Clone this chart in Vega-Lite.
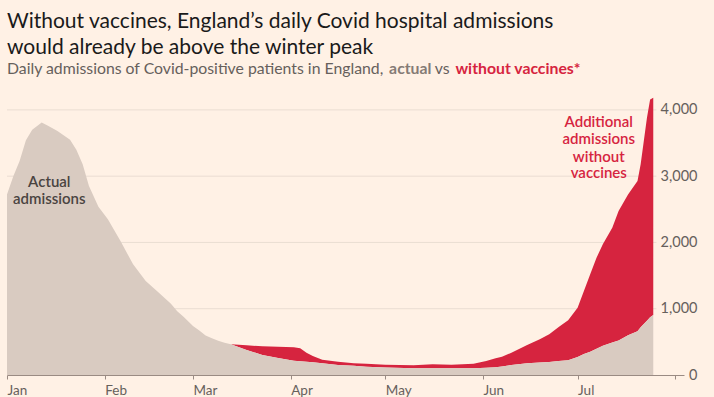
{
  "$schema": "https://vega.github.io/schema/vega-lite/v6.json",
  "width": 677,
  "height": 285,
  "autosize": {"type": "none"},
  "padding": {"left": 7, "top": 90, "right": 30, "bottom": 22},
  "background": "#FFF1E5",
  "config": {"view": {"stroke": null}, "font": "Lato"},
  "title": {
    "text": ["Without vaccines, England’s daily Covid hospital admissions", "would already be above the winter peak"],
    "anchor": "start",
    "frame": "group",
    "font": "Lato",
    "fontSize": 21,
    "fontWeight": "normal",
    "color": "#1a1a1a",
    "lineHeight": 26,
    "offset": 3
  },
  "datasets": {
    "series": [
      {"date": "2021-01-01", "actual": 2725, "without": null},
      {"date": "2021-01-03", "actual": 3000, "without": null},
      {"date": "2021-01-05", "actual": 3230, "without": null},
      {"date": "2021-01-07", "actual": 3540, "without": null},
      {"date": "2021-01-09", "actual": 3700, "without": null},
      {"date": "2021-01-12", "actual": 3810, "without": null},
      {"date": "2021-01-14", "actual": 3760, "without": null},
      {"date": "2021-01-17", "actual": 3680, "without": null},
      {"date": "2021-01-21", "actual": 3550, "without": null},
      {"date": "2021-01-23", "actual": 3400, "without": null},
      {"date": "2021-01-25", "actual": 3180, "without": null},
      {"date": "2021-01-27", "actual": 2850, "without": null},
      {"date": "2021-01-30", "actual": 2540, "without": null},
      {"date": "2021-02-02", "actual": 2350, "without": null},
      {"date": "2021-02-06", "actual": 2020, "without": null},
      {"date": "2021-02-10", "actual": 1670, "without": null},
      {"date": "2021-02-14", "actual": 1420, "without": null},
      {"date": "2021-02-18", "actual": 1250, "without": null},
      {"date": "2021-02-22", "actual": 1075, "without": null},
      {"date": "2021-02-24", "actual": 960, "without": null},
      {"date": "2021-02-26", "actual": 880, "without": null},
      {"date": "2021-03-01", "actual": 740, "without": null},
      {"date": "2021-03-03", "actual": 670, "without": null},
      {"date": "2021-03-05", "actual": 595, "without": null},
      {"date": "2021-03-07", "actual": 555, "without": null},
      {"date": "2021-03-09", "actual": 518, "without": null},
      {"date": "2021-03-11", "actual": 488, "without": null},
      {"date": "2021-03-13", "actual": 463, "without": 463},
      {"date": "2021-03-18", "actual": 377, "without": 448},
      {"date": "2021-03-23", "actual": 302, "without": 433},
      {"date": "2021-03-28", "actual": 255, "without": 427},
      {"date": "2021-04-02", "actual": 215, "without": 420},
      {"date": "2021-04-04", "actual": 208, "without": 403},
      {"date": "2021-04-06", "actual": 200, "without": 336},
      {"date": "2021-04-08", "actual": 192, "without": 287},
      {"date": "2021-04-11", "actual": 178, "without": 231},
      {"date": "2021-04-16", "actual": 152, "without": 201},
      {"date": "2021-04-21", "actual": 138, "without": 176},
      {"date": "2021-04-25", "actual": 125, "without": 171},
      {"date": "2021-05-01", "actual": 112, "without": 155},
      {"date": "2021-05-10", "actual": 101, "without": 146},
      {"date": "2021-05-16", "actual": 101, "without": 161},
      {"date": "2021-05-22", "actual": 101, "without": 155},
      {"date": "2021-05-29", "actual": 101, "without": 171},
      {"date": "2021-06-02", "actual": 108, "without": 211},
      {"date": "2021-06-05", "actual": 118, "without": 252},
      {"date": "2021-06-07", "actual": 130, "without": 276},
      {"date": "2021-06-10", "actual": 150, "without": 336},
      {"date": "2021-06-15", "actual": 178, "without": 452},
      {"date": "2021-06-19", "actual": 190, "without": 538},
      {"date": "2021-06-22", "actual": 198, "without": 614},
      {"date": "2021-06-25", "actual": 210, "without": 724},
      {"date": "2021-06-28", "actual": 222, "without": 825},
      {"date": "2021-07-01", "actual": 270, "without": 1015},
      {"date": "2021-07-03", "actual": 315, "without": 1267},
      {"date": "2021-07-05", "actual": 350, "without": 1519},
      {"date": "2021-07-07", "actual": 395, "without": 1769},
      {"date": "2021-07-09", "actual": 440, "without": 1971},
      {"date": "2021-07-12", "actual": 490, "without": 2222},
      {"date": "2021-07-14", "actual": 520, "without": 2474},
      {"date": "2021-07-17", "actual": 600, "without": 2725},
      {"date": "2021-07-20", "actual": 660, "without": 2926},
      {"date": "2021-07-21", "actual": 720, "without": 3178},
      {"date": "2021-07-22", "actual": 770, "without": 3529},
      {"date": "2021-07-23", "actual": 820, "without": 3881},
      {"date": "2021-07-24", "actual": 870, "without": 4158},
      {"date": "2021-07-25", "actual": 905, "without": 4183}
    ],
    "grid": [
      {"date": "2021-01-01", "end": "2021-07-26", "value": 1000},
      {"date": "2021-01-01", "end": "2021-07-26", "value": 2000},
      {"date": "2021-01-01", "end": "2021-07-26", "value": 3000},
      {"date": "2021-01-01", "end": "2021-07-26", "value": 4000}
    ]
  },
  "layer": [
    {
      "data": {"name": "grid"},
      "mark": {"type": "rule", "color": "#EADDD2", "strokeWidth": 1},
      "encoding": {
        "x": {"field": "date", "type": "temporal", "title": null, "scale": {"type": "utc", "domain": [{"year": 2021, "month": 1, "date": 1, "utc": true}, {"year": 2021, "month": 8, "date": 3, "hours": 18, "utc": true}]}},
        "x2": {"field": "end"},
        "y": {"field": "value", "type": "quantitative", "title": null, "scale": {"domain": [0, 4300], "nice": false}}
      }
    },
    {
      "data": {"name": "series"},
      "transform": [{"filter": "isValid(datum.without)"}],
      "mark": {"type": "area", "color": "#D6243F"},
      "encoding": {
        "x": {"field": "date", "type": "temporal", "title": null, "scale": {"type": "utc", "domain": [{"year": 2021, "month": 1, "date": 1, "utc": true}, {"year": 2021, "month": 8, "date": 3, "hours": 18, "utc": true}]}},
        "y": {"field": "without", "type": "quantitative", "title": null, "scale": {"domain": [0, 4300], "nice": false}},
        "y2": {"field": "actual"}
      }
    },
    {
      "data": {"name": "series"},
      "mark": {"type": "area", "color": "#D9CBC1"},
      "encoding": {
        "x": {
          "field": "date", "type": "temporal", "title": null,
          "scale": {"type": "utc", "domain": [{"year": 2021, "month": 1, "date": 1, "utc": true}, {"year": 2021, "month": 8, "date": 3, "hours": 18, "utc": true}]},
          "axis": {
            "values": [
              {"year": 2021, "month": 1, "date": 1, "utc": true},
              {"year": 2021, "month": 2, "date": 1, "utc": true},
              {"year": 2021, "month": 3, "date": 1, "utc": true},
              {"year": 2021, "month": 4, "date": 1, "utc": true},
              {"year": 2021, "month": 5, "date": 1, "utc": true},
              {"year": 2021, "month": 6, "date": 1, "utc": true},
              {"year": 2021, "month": 7, "date": 1, "utc": true},
              {"year": 2021, "month": 8, "date": 1, "utc": true}
            ],
            "labelExpr": "utcFormat(datum.value, '%b') == 'Aug' ? '' : utcFormat(datum.value, '%b')",
            "grid": false,
            "domainColor": "#9A8B83",
            "domainWidth": 1,
            "tickColor": "#9A8B83",
            "tickSize": 4,
            "labelAlign": "left",
            "labelBaseline": "alphabetic",
            "labelPadding": 15,
            "labelFont": "Lato",
            "labelFontSize": 13.5,
            "labelColor": "#66605C",
            "labelFlush": false,
            "labelOverlap": false
          }
        },
        "y": {
          "field": "actual", "type": "quantitative", "title": null,
          "scale": {"domain": [0, 4300], "nice": false},
          "axis": {
            "orient": "right",
            "values": [0, 1000, 2000, 3000, 4000],
            "format": ",.0f",
            "grid": false,
            "domain": false,
            "ticks": false,
            "tickSize": 0,
            "labelAlign": "right",
            "labelBaseline": "middle",
            "labelPadding": 13,
            "labelFont": "Lato",
            "labelFontSize": 14.5,
            "labelColor": "#66605C"
          }
        }
      }
    },
    {
      "data": {"values": [
        {"date": "2021-01-14T10:00:00Z", "value": 2916, "text": "Actual"},
        {"date": "2021-01-14T10:00:00Z", "value": 2655, "text": "admissions"}
      ]},
      "mark": {"type": "text", "font": "Lato", "fontSize": 15, "fontWeight": 600, "color": "#4A4441", "align": "center", "baseline": "middle"},
      "encoding": {
        "x": {"field": "date", "type": "temporal", "title": null},
        "y": {"field": "value", "type": "quantitative", "title": null},
        "text": {"field": "text"}
      }
    },
    {
      "data": {"values": [
        {"date": "2021-07-07T17:00:00Z", "value": 3822, "text": "Additional"},
        {"date": "2021-07-07T17:00:00Z", "value": 3561, "text": "admissions"},
        {"date": "2021-07-07T17:00:00Z", "value": 3294, "text": "without"},
        {"date": "2021-07-07T17:00:00Z", "value": 3043, "text": "vaccines"}
      ]},
      "mark": {"type": "text", "font": "Lato", "fontSize": 15, "fontWeight": 600, "color": "#D6243F", "align": "center", "baseline": "middle"},
      "encoding": {
        "x": {"field": "date", "type": "temporal", "title": null},
        "y": {"field": "value", "type": "quantitative", "title": null},
        "text": {"field": "text"}
      }
    },
    {
      "data": {"values": [
        {"date": "2021-01-01", "value": 4540, "text": "Daily admissions of Covid-positive patients in England,"},
        {"date": "2021-05-16T17:00:00Z", "value": 4540, "text": "vs"}
      ]},
      "mark": {"type": "text", "font": "Lato", "fontSize": 15.8, "fontWeight": "normal", "color": "#66605C", "align": "left", "baseline": "alphabetic"},
      "encoding": {
        "x": {"field": "date", "type": "temporal", "title": null},
        "y": {"field": "value", "type": "quantitative", "title": null},
        "text": {"field": "text"}
      }
    },
    {
      "data": {"values": [
        {"date": "2021-05-02T05:00:00Z", "value": 4540, "text": "actual"}
      ]},
      "mark": {"type": "text", "font": "Lato", "fontSize": 15.8, "fontWeight": "bold", "color": "#857B75", "align": "left", "baseline": "alphabetic"},
      "encoding": {
        "x": {"field": "date", "type": "temporal", "title": null},
        "y": {"field": "value", "type": "quantitative", "title": null},
        "text": {"field": "text"}
      }
    },
    {
      "data": {"values": [
        {"date": "2021-05-23T06:00:00Z", "value": 4540, "text": "without vaccines*"}
      ]},
      "mark": {"type": "text", "font": "Lato", "fontSize": 15.8, "fontWeight": "bold", "color": "#D6243F", "align": "left", "baseline": "alphabetic"},
      "encoding": {
        "x": {"field": "date", "type": "temporal", "title": null},
        "y": {"field": "value", "type": "quantitative", "title": null},
        "text": {"field": "text"}
      }
    }
  ]
}
